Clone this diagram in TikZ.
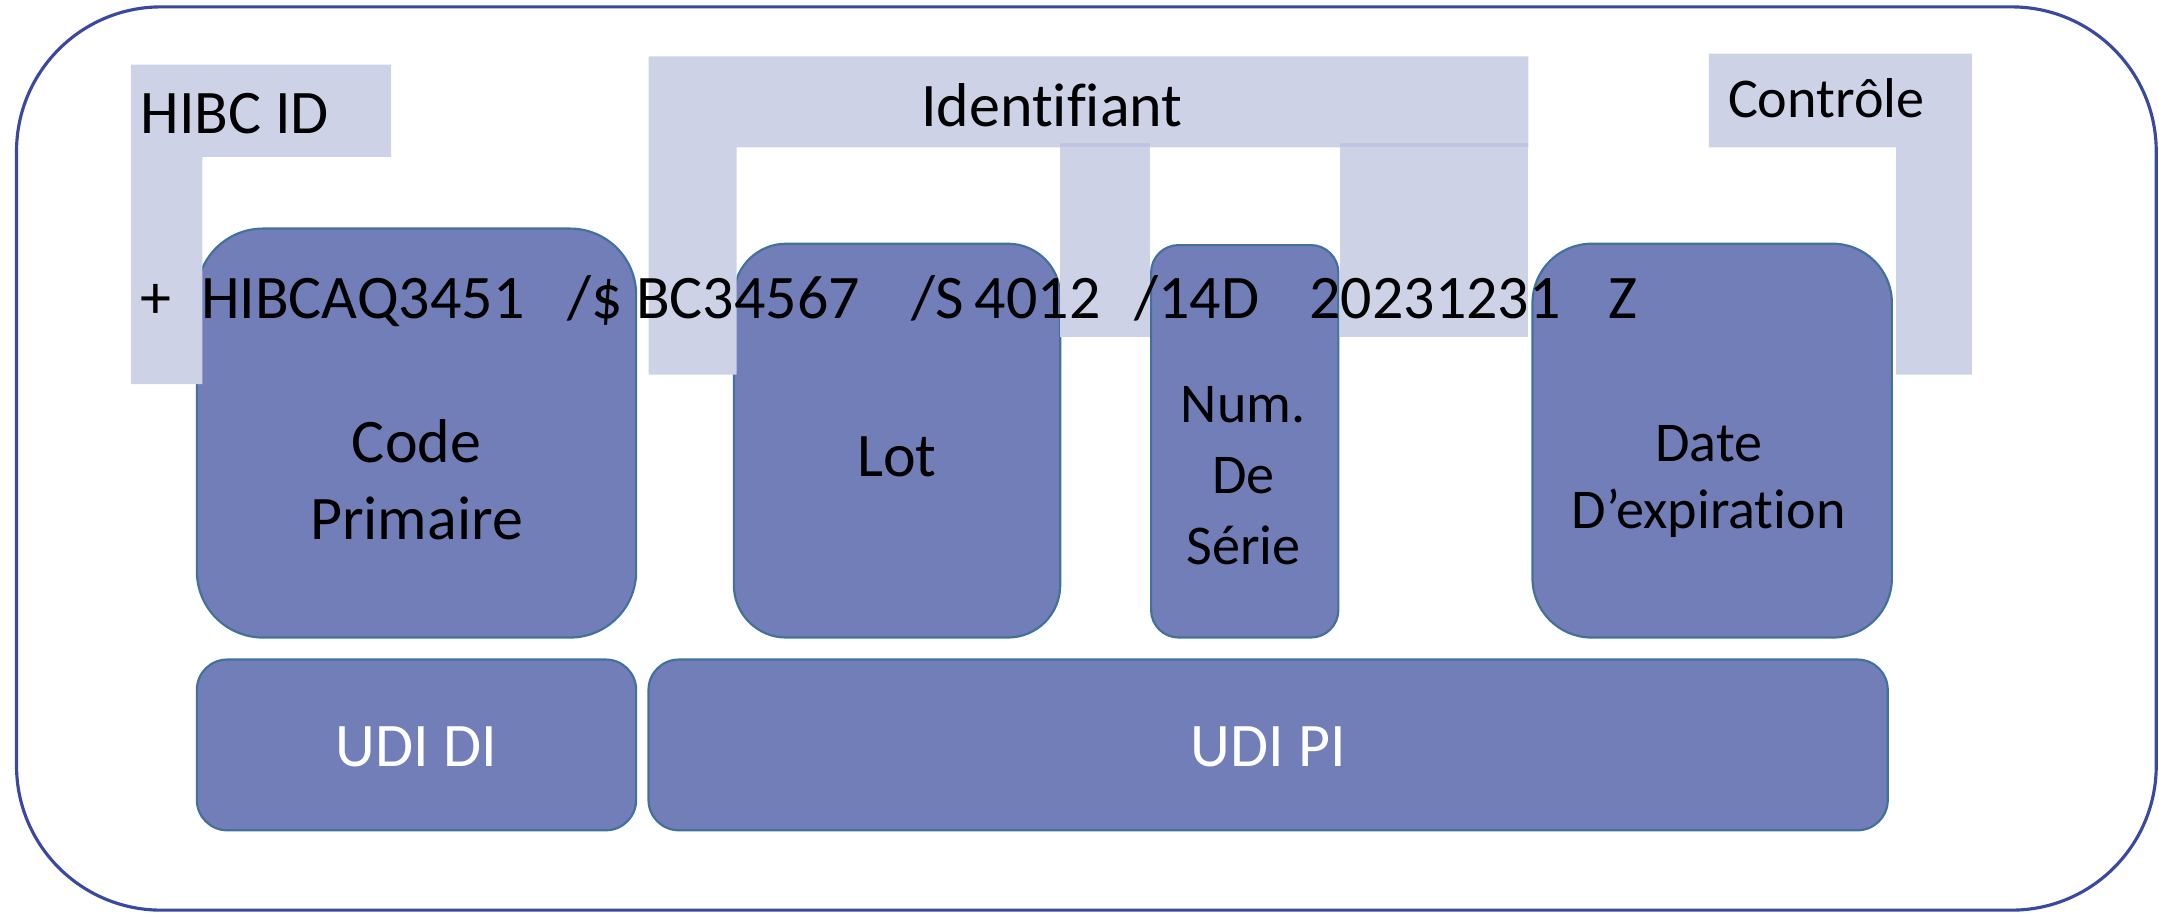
\documentclass[tikz,border=0pt]{standalone}
\usepackage{fontspec}
\setmainfont{Carlito}[Ligatures={NoCommon,NoContextual}]
\definecolor{framec}{RGB}{59,72,160}
\definecolor{lightc}{RGB}{205,210,230}
\definecolor{lapc}{RGB}{191,197,225}
\definecolor{darkc}{RGB}{114,126,183}
\definecolor{edgec}{RGB}{65,113,156}
\tikzset{
  darkbox/.style={fill=darkc, draw=edgec, line width=0.45pt},
  lightbar/.style={fill=lightc, draw=none},
  lapstrip/.style={fill=lapc, draw=none},
  bigfont/.style={font=\fontsize{12.8}{15.9}\selectfont},
  smallfont/.style={font=\fontsize{11.6}{14.65}\selectfont},
  lbl/.style={inner sep=0pt, outer sep=0pt, anchor=base west, bigfont},
  boxlbl/.style={inner sep=0pt, outer sep=0pt, anchor=base, align=center},
}
\begin{document}
\begin{tikzpicture}[x=0.1mm, y=-0.1mm]
\useasboundingbox (0,0) rectangle (1568,663);
% outer frame
\draw[framec, line width=0.65pt, rounded corners=10.5mm] (12,5) rectangle (1566,661);
% dark boxes
\draw[darkbox, rounded corners=4.8mm] (143,166) rectangle (462,463);
\draw[darkbox, rounded corners=3.8mm] (533,177) rectangle (770,463);
\draw[darkbox, rounded corners=2.0mm] (836,178) rectangle (972,463);
\draw[darkbox, rounded corners=4.3mm] (1113,177) rectangle (1374,463);
\draw[darkbox, rounded corners=2.2mm] (143,479) rectangle (462,603);
\draw[darkbox, rounded corners=2.2mm] (471,479) rectangle (1371,603);
% light brackets
\fill[lightbar] (95,47) -- (284,47) -- (284,114) -- (147,114) -- (147,279) -- (95,279) -- cycle;
\fill[lightbar] (471,41) -- (1110,41) -- (1110,107) -- (535,107) -- (535,272) -- (471,272) -- cycle;
\fill[lightbar] (770,107) rectangle (835,245);
\fill[lapstrip] (770,104) rectangle (835,107);
\fill[lightbar] (973,107) rectangle (1110,245);
\fill[lapstrip] (973,104) rectangle (1110,107);
\fill[lightbar] (1241,39) -- (1432,39) -- (1432,272) -- (1377,272) -- (1377,107) -- (1241,107) -- cycle;
% bracket labels
\node[lbl] (hibc) at (102,97) {HIBC ID};
\node[lbl] (ident) at (669,92) {Identifiant};
\node[lbl, smallfont] (ctrl) at (1255,85.5) {Contrôle};
% code string
\node[lbl] (plus) at (102,231) {+};
\node[lbl] (pri) at (146,231) {HIBCAQ3451};
\node[lbl] (sep1) at (412,231) {/\$};
\node[lbl] (lotv) at (462,231) {BC34567};
\node[lbl] (sep2) at (662,231) {/S};
\node[lbl] (serv) at (708,231) {4012};
\node[lbl] (sep3) at (824,231) {/14D};
\node[lbl] (datev) at (951,231) {20231231};
\node[lbl] (chk) at (1168,231) {Z};
% box labels (anchor = baseline of the last line)
\node[boxlbl, bigfont] (code) at (302.5,392) {Code\\Primaire};
\node[boxlbl, bigfont] (lot) at (651.5,346) {Lot};
\node[boxlbl, smallfont] (num) at (903,410) {Num.\\De\\Série};
\node[boxlbl, font=\fontsize{11.6}{13.8}\selectfont] (date) at (1241,383.6) {Date\\D’expiration};
\node[boxlbl, bigfont, text=white] (udidi) at (302.5,557) {UDI DI};
\node[boxlbl, bigfont, text=white] (udipi) at (921,557) {UDI PI};
\end{tikzpicture}
\end{document}
